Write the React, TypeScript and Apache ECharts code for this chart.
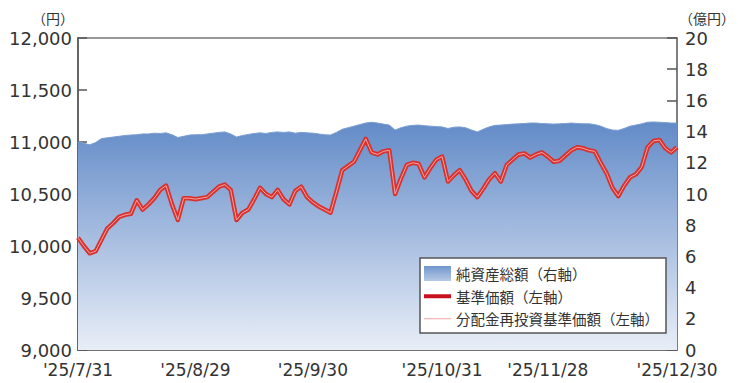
import React, { useEffect, useRef } from "react";
import * as echarts from "echarts";

// Japanese market holidays inside the period (non-trading days)
const holidays = ["2025-08-11", "2025-09-15", "2025-09-23", "2025-10-13", "2025-11-03", "2025-11-24"];
const startDate = "2025-07-31";
const endDate = "2025-12-30";

// x-axis labelled dates and inner tick dates
const labelDates = ["2025-07-31", "2025-08-29", "2025-09-30", "2025-10-31", "2025-11-28", "2025-12-30"];
const tickDates = ["2025-08-29", "2025-09-30", "2025-10-31", "2025-11-28"];

// left axis ticks (円)
const leftMin = 9000;
const leftMax = 12000;
const leftStep = 500;
// right axis ticks (億円)
const rightMin = 0;
const rightMax = 20;
const rightStep = 2;

// 純資産総額 (億円), one value per business day
const netAssets = [
  13.35, 13.25, 13.15, 13.3, 13.55, 13.6, 13.65, 13.7, 13.75, 13.78,
  13.8, 13.85, 13.85, 13.9, 13.88, 13.92, 13.8, 13.62, 13.7, 13.78,
  13.8, 13.8, 13.85, 13.9, 13.95, 13.98, 13.85, 13.65, 13.75, 13.82,
  13.88, 13.92, 13.88, 13.95, 13.98, 13.95, 13.98, 13.9, 13.95, 13.92,
  13.9, 13.85, 13.8, 13.78, 13.95, 14.15, 14.25, 14.35, 14.45, 14.55,
  14.6, 14.55, 14.48, 14.42, 14.1, 14.25, 14.35, 14.4, 14.42, 14.38,
  14.35, 14.32, 14.3, 14.2, 14.28, 14.3, 14.25, 14.1, 13.98, 14.15,
  14.3, 14.4, 14.42, 14.45, 14.48, 14.5, 14.52, 14.55, 14.55, 14.52,
  14.5, 14.48, 14.5, 14.52, 14.55, 14.52, 14.5, 14.5, 14.45, 14.35,
  14.2, 14.1, 14.08, 14.2, 14.35, 14.42, 14.5, 14.6, 14.62, 14.6,
  14.58, 14.55, 14.55,
];

// 基準価額 (円)
const nav = [
  10080, 10000, 9930, 9950, 10060, 10170, 10220, 10280, 10300, 10310,
  10440, 10350, 10400, 10460, 10540, 10580, 10400, 10250, 10460, 10460,
  10450, 10460, 10470, 10520, 10570, 10590, 10540, 10250, 10320, 10350,
  10450, 10560, 10500, 10470, 10540, 10450, 10400, 10530, 10570, 10470,
  10420, 10380, 10350, 10320, 10520, 10730, 10770, 10810, 10920, 11030,
  10900, 10880, 10910, 10920, 10500, 10650, 10780, 10800, 10790, 10660,
  10750, 10830, 10860, 10620, 10680, 10730, 10640, 10530, 10470, 10550,
  10640, 10700, 10620, 10780, 10830, 10880, 10890, 10850, 10880, 10900,
  10860, 10810, 10820, 10870, 10920, 10950, 10940, 10920, 10910, 10800,
  10700, 10560, 10480, 10580, 10660, 10690, 10760, 10950, 11010, 11020,
  10940, 10900, 10950,
];

// 分配金再投資基準価額 (円) – no distributions in the period, identical to NAV
const reinvestedNav = nav;

const seriesNames = ["純資産総額（右軸）", "基準価額（左軸）", "分配金再投資基準価額（左軸）"];

function businessDays(start: string, end: string, skip: string[]): string[] {
  const out: string[] = [];
  const s = new Date(start + "T00:00:00Z");
  const e = new Date(end + "T00:00:00Z");
  for (let d = new Date(s); d <= e; d = new Date(d.getTime() + 86400000)) {
    const wd = d.getUTCDay();
    const iso = d.toISOString().slice(0, 10);
    if (wd === 0 || wd === 6 || skip.includes(iso)) continue;
    out.push(iso);
  }
  return out;
}

const dates = businessDays(startDate, endDate, holidays);

function fmtDate(iso: string): string {
  const [y, m, d] = iso.split("-");
  return "'" + y.slice(2) + "/" + Number(m) + "/" + Number(d);
}

const NUM_FONT = "DejaVu Sans";
const JP_FONT = "Noto Sans CJK JP";

export default function App() {
  const ref = useRef<HTMLDivElement>(null);

  useEffect(() => {
    if (!ref.current) return;
    const chart = echarts.init(ref.current, null, { renderer: "svg" });

    const areaGradient = new echarts.graphic.LinearGradient(0, 0, 0, 1, [
      { offset: 0, color: "#628bc7" },
      { offset: 0.45, color: "#a0b8de" },
      { offset: 1, color: "#e8eef7" },
    ]);
    const legendGradient = new echarts.graphic.LinearGradient(0, 0, 0, 1, [
      { offset: 0, color: "#7196cc" },
      { offset: 1, color: "#b7c9e6" },
    ]);

    chart.setOption({
      animation: false,
      backgroundColor: "#ffffff",
      grid: {
        left: 78,
        right: 60,
        top: 38,
        bottom: 33,
        show: true,
        borderColor: "#777",
        borderWidth: 1.5,
        backgroundColor: "transparent",
      },
      legend: {
        orient: "vertical",
        left: 420,
        top: 258,
        itemWidth: 27,
        itemHeight: 15,
        itemGap: 8,
        padding: [8, 7, 7, 2],
        backgroundColor: "#ffffff",
        borderColor: "#555",
        borderWidth: 1.5,
        borderRadius: 0,
        selectedMode: false,
        textStyle: { fontSize: 14.5, fontFamily: JP_FONT, color: "#333" },
        data: [
          { name: seriesNames[0], icon: "rect", itemStyle: { color: legendGradient } },
          { name: seriesNames[1], itemStyle: { opacity: 0 }, lineStyle: { color: "#c8101e", width: 4 } },
          { name: seriesNames[2], itemStyle: { opacity: 0 }, lineStyle: { color: "#f4a3a8", width: 1 } },
        ],
      },
      xAxis: {
        type: "category",
        data: dates,
        boundaryGap: false,
        axisLine: { lineStyle: { color: "#666", width: 1.5 } },
        axisTick: {
          show: true,
          inside: true,
          length: 12,
          interval: (i: number) => tickDates.includes(dates[i]),
          lineStyle: { color: "#666", width: 1.5 },
        },
        axisLabel: {
          interval: (i: number) => labelDates.includes(dates[i]),
          formatter: (v: string) => fmtDate(v),
          fontSize: 17,
          fontFamily: NUM_FONT,
          color: "#333",
          margin: 11,
          hideOverlap: false,
        },
        splitLine: { show: false },
      },
      yAxis: [
        {
          type: "value",
          min: leftMin,
          max: leftMax,
          interval: leftStep,
          position: "left",
          name: "（円）",
          nameLocation: "end",
          nameGap: 13,
          nameTextStyle: { fontSize: 14, fontFamily: JP_FONT, color: "#333", align: "right", padding: [0, 4, 0, 0] },
          axisLine: { show: true, lineStyle: { color: "#666", width: 2 } },
          axisTick: { show: true, inside: true, length: 9, lineStyle: { color: "#555", width: 1.5 } },
          axisLabel: {
            formatter: (v: number) => v.toLocaleString("en-US"),
            fontSize: 18,
            fontFamily: NUM_FONT,
            color: "#333",
            margin: 6,
          },
          splitLine: { show: false },
        },
        {
          type: "value",
          min: rightMin,
          max: rightMax,
          interval: rightStep,
          position: "right",
          name: "（億円）",
          nameLocation: "end",
          nameGap: 13,
          nameTextStyle: { fontSize: 14, fontFamily: JP_FONT, color: "#333", align: "left", padding: [0, 0, 0, 2] },
          axisLine: { show: true, lineStyle: { color: "#777", width: 1.5 } },
          axisTick: { show: true, inside: true, length: 10, lineStyle: { color: "#555", width: 1.5 } },
          axisLabel: { fontSize: 18, fontFamily: NUM_FONT, color: "#333", margin: 8 },
          splitLine: { show: false },
        },
      ],
      series: [
        {
          name: seriesNames[0],
          type: "line",
          yAxisIndex: 1,
          data: netAssets,
          symbol: "none",
          showSymbol: false,
          z: 1,
          lineStyle: { color: "#7a9dd1", width: 1 },
          itemStyle: { color: "#7a9dd1" },
          areaStyle: { color: areaGradient, opacity: 1 },
        },
        {
          name: seriesNames[1],
          type: "line",
          yAxisIndex: 0,
          data: nav,
          symbol: "none",
          showSymbol: false,
          z: 3,
          lineStyle: { color: "#d8322e", width: 4.5, join: "round" },
          itemStyle: { color: "#d8322e" },
        },
        {
          name: seriesNames[2],
          type: "line",
          yAxisIndex: 0,
          data: reinvestedNav,
          symbol: "none",
          showSymbol: false,
          z: 4,
          lineStyle: { color: "#f4a3a8", width: 1 },
          itemStyle: { color: "#f4a3a8" },
        },
      ],
    });

    return () => {
      chart.dispose();
    };
  }, []);

  return (
    <div
      ref={ref}
      style={{ position: "absolute", left: 0, top: 0, width: 738, height: 383 }}
    />
  );
}
